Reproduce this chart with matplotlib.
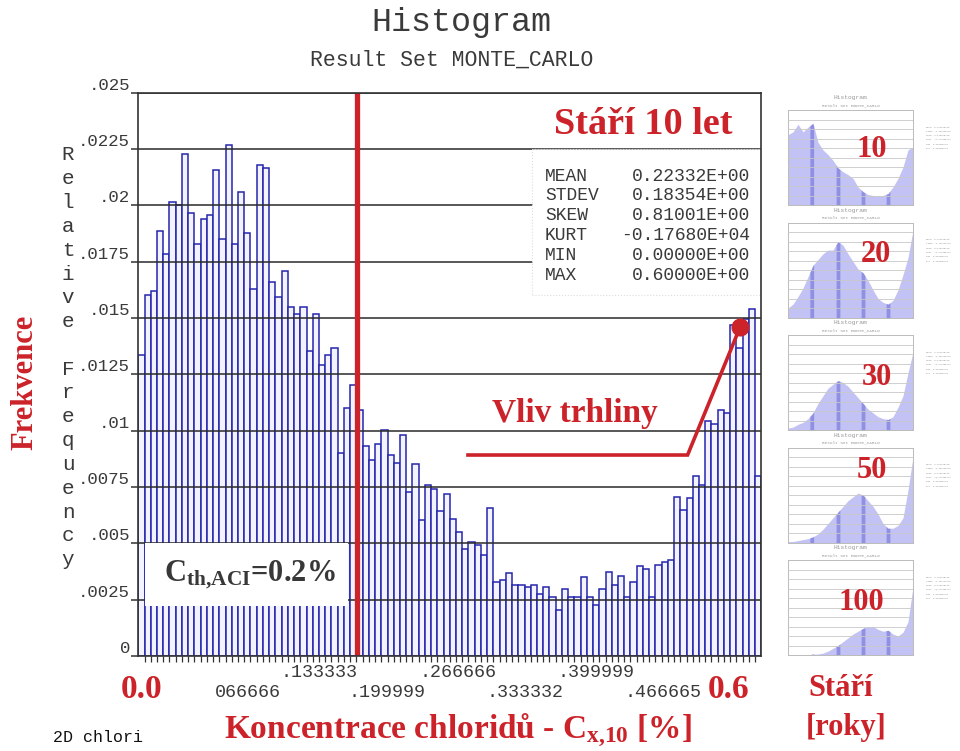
import numpy as np
import matplotlib.pyplot as plt
from matplotlib.patches import Rectangle

plt.rcParams['mathtext.fontset'] = 'custom'
plt.rcParams['mathtext.rm'] = 'Liberation Serif:bold'
plt.rcParams['mathtext.bf'] = 'Liberation Serif:bold'
plt.rcParams['mathtext.it'] = 'Liberation Serif:bold'

### data
bin_width = 0.006
freq = [0.01338, 0.01602, 0.01618, 0.01888, 0.01783, 0.02017, 0.02000, 0.02230,
        0.01967, 0.01830, 0.01938, 0.01958, 0.02158, 0.01852, 0.02268, 0.01830,
        0.02058, 0.01877, 0.01630, 0.02180, 0.02168, 0.01658, 0.01592, 0.01708,
        0.01550, 0.01518, 0.01550, 0.01355, 0.01518, 0.01292, 0.01338, 0.01367,
        0.00900, 0.01102, 0.01202, 0.01092, 0.00930, 0.00868, 0.00942, 0.01005,
        0.00892, 0.00855, 0.00980, 0.00730, 0.00850, 0.00602, 0.00758, 0.00742,
        0.00642, 0.00718, 0.00608, 0.00550, 0.00477, 0.00505, 0.00492, 0.00450,
        0.00655, 0.00328, 0.00338, 0.00367, 0.00313, 0.00313, 0.00305, 0.00313,
        0.00275, 0.00305, 0.00263, 0.00202, 0.00297, 0.00263, 0.00263, 0.00350,
        0.00263, 0.00227, 0.00297, 0.00375, 0.00313, 0.00355, 0.00263, 0.00327,
        0.00400, 0.00388, 0.00263, 0.00405, 0.00417, 0.00427, 0.00705, 0.00647,
        0.00702, 0.00800, 0.00758, 0.01042, 0.01030, 0.01092, 0.01080, 0.01468,
        0.01367, 0.01497, 0.01538, 0.00800]
y_ticks = [0, 0.0025, 0.005, 0.0075, 0.01, 0.0125, 0.015, 0.0175, 0.02, 0.0225, 0.025]
y_labels = ['0', '.0025', '.005', '.0075', '.01', '.0125', '.015', '.0175', '.02', '.0225', '.025']
x_ticks_up = [0.133333, 0.266666, 0.399999]
x_labels_up = ['.133333', '.266666', '.399999']
x_ticks_low = [0.066666, 0.199999, 0.333332, 0.466665]
x_labels_low = ['066666', '.199999', '.333332', '.466665']
stat_names = ['MEAN', 'STDEV', 'SKEW', 'KURT', 'MIN', 'MAX']
stat_values = ['0.22332E+00', '0.18354E+00', '0.81001E+00', '-0.17680E+04', '0.00000E+00', '0.60000E+00']
c_threshold = 0.211
crack_path_x = [0.3175, 0.529, 0.5796]
crack_path_y = [0.00892, 0.00892, 0.0146]

### small histograms for the other ages (relative heights)
ages = ['10', '20', '30', '50', '100']
age_label_x = [0.67, 0.70, 0.71, 0.67, 0.59]
age_label_y = [0.58, 0.66, 0.55, 0.76, 0.55]
thumb_x = np.linspace(0, 1, 26)
thumb_10 = [0.74, 0.77, 0.85, 0.77, 0.82, 0.86, 0.66, 0.58, 0.53, 0.47, 0.39, 0.35, 0.32,
            0.28, 0.19, 0.14, 0.11, 0.10, 0.10, 0.10, 0.12, 0.19, 0.28, 0.40, 0.58, 0.61]
thumb_20 = [0.10, 0.14, 0.22, 0.31, 0.43, 0.55, 0.61, 0.67, 0.71, 0.71, 0.80, 0.76, 0.67,
            0.59, 0.51, 0.47, 0.39, 0.29, 0.20, 0.16, 0.14, 0.18, 0.29, 0.45, 0.63, 0.92]
thumb_30 = [0.02, 0.03, 0.06, 0.08, 0.12, 0.18, 0.28, 0.36, 0.44, 0.48, 0.52, 0.50, 0.46,
            0.40, 0.34, 0.28, 0.22, 0.18, 0.14, 0.12, 0.11, 0.14, 0.24, 0.36, 0.60, 0.82]
thumb_50 = [0.01, 0.01, 0.02, 0.03, 0.04, 0.06, 0.09, 0.14, 0.20, 0.26, 0.32, 0.38, 0.44,
            0.48, 0.52, 0.50, 0.44, 0.38, 0.30, 0.20, 0.15, 0.15, 0.18, 0.26, 0.55, 0.90]
thumb_100 = [0.0, 0.0, 0.0, 0.0, 0.0, 0.01, 0.01, 0.02, 0.04, 0.07, 0.10, 0.14, 0.18,
             0.22, 0.25, 0.28, 0.30, 0.30, 0.27, 0.25, 0.26, 0.22, 0.20, 0.24, 0.35, 0.72]
thumbs = [thumb_10, thumb_20, thumb_30, thumb_50, thumb_100]
band_pos = [0.19, 0.4, 0.6, 0.8]

RED = '#cc2229'
MONO = 'Liberation Mono'
SERIF = 'Liberation Serif'
INK = '#3a3a3a'

fig = plt.figure(figsize=(9.6, 7.51), dpi=100)

###Main histogram
ax = fig.add_axes([138.3/960, 95/751, 623/960, 563.3/751])
edges = np.arange(len(freq)) * bin_width
ax.bar(edges, freq, width=bin_width, align='edge', facecolor='#f3f3ff',
       edgecolor='#2626ac', linewidth=1.1, zorder=2)
for yt in y_ticks[1:]:
    ax.axhline(yt, color='#2a2a2a', lw=1.1, zorder=3)
ax.set_xlim(0, 0.6)
ax.set_ylim(0, 0.025)
for s in ax.spines.values():
    s.set_color('#333333')
    s.set_linewidth(1.2)
    s.set_zorder(6)

ax.set_yticks(y_ticks)
ax.set_yticklabels(y_labels, family=MONO, fontsize=12.5, color=INK)
for lab in ax.get_yticklabels():
    lab.set_verticalalignment('bottom')
ax.tick_params(axis='y', direction='out', length=5, width=1.1, color='#333333', pad=1)
ax.set_xticks([])
ax.set_xticks(edges[1:], minor=True)
ax.tick_params(axis='x', which='minor', direction='out', length=4, width=0.9, color='#333333')

trans = ax.get_xaxis_transform()
for xt, lab in zip(x_ticks_up, x_labels_up):
    ax.text(xt + 0.004, -0.030, lab, transform=trans, family=MONO, fontsize=13.2,
            color=INK, ha='left', va='center')
for xt, lab in zip(x_ticks_low, x_labels_low):
    ax.text(xt + 0.007 if lab[0] != '.' else xt + 0.002, -0.064, lab, transform=trans,
            family=MONO, fontsize=13.2, color=INK, ha='left', va='center')

###Boxes covering the grid
ax.add_patch(Rectangle((0.379, 0.016), 0.221, 0.0065, facecolor='white',
                       edgecolor='#dddddd', lw=0.8, ls=':', zorder=4))
ax.add_patch(Rectangle((0.0065, 0.0022), 0.1955, 0.0028, facecolor='white',
                       edgecolor='none', zorder=4))
ax.text(0.1076, 0.0036, r'$\mathbf{C_{th{,}ACI}}$=0.2%', family=SERIF, weight='bold',
        fontsize=22, color='#383838', ha='center', va='center', zorder=7)

###Statistics
for i, (n, v) in enumerate(zip(stat_names, stat_values)):
    yy = 0.852 - i * 0.0352
    ax.text(0.653, yy, n, transform=ax.transAxes, family=MONO, fontsize=13,
            color=INK, ha='left', va='center', zorder=7)
    ax.text(0.982, yy, v, transform=ax.transAxes, family=MONO, fontsize=13,
            color=INK, ha='right', va='center', zorder=7)

ax.text(0.81, 0.943, 'Stáří 10 let', transform=ax.transAxes, family=SERIF,
        weight='bold', fontsize=27.5, color=RED, ha='center', va='center', zorder=7)

###Threshold and crack annotation
ax.axvline(c_threshold, color=RED, lw=3.8, zorder=5)
ax.plot(crack_path_x, crack_path_y, color=RED, lw=2.6, zorder=6, solid_joinstyle='miter')
ax.plot(crack_path_x[-1], crack_path_y[-1], 'o', color=RED, ms=12, zorder=7)
ax.text(0.701, 0.431, 'Vliv trhliny', transform=ax.transAxes, family=SERIF,
        weight='bold', fontsize=24, color=RED, ha='center', va='center', zorder=7)

###Figure texts
fig.text(461/960, 1 - 22/751, 'Histogram', family=MONO, fontsize=24, color=INK,
         ha='center', va='center')
fig.text(452/960, 1 - 60/751, 'Result Set MONTE_CARLO', family=MONO, fontsize=15.5,
         color=INK, ha='center', va='center')
for i, ch in enumerate('Relative Frequency'):
    fig.text(68/960, 1 - (155 + i * 23.8)/751, ch, family=MONO, fontsize=15,
             color=INK, ha='center', va='center')
fig.text(25/960, 1 - 382/751, 'Frekvence', family=SERIF, weight='bold', fontsize=22,
         color=RED, rotation=90, ha='center', va='center')
fig.text(142/960, 1 - 690/751, '0.0', family=SERIF, weight='bold', fontsize=24,
         color=RED, ha='center', va='center')
fig.text(729/960, 1 - 690/751, '0.6', family=SERIF, weight='bold', fontsize=24,
         color=RED, ha='center', va='center',
         bbox=dict(facecolor='white', edgecolor='none', pad=1))
fig.text(458/960, 1 - 730/751, r'Koncentrace chloridů - $\mathbf{C_{x{,}10}}$ [%]',
         family=SERIF, weight='bold', fontsize=24, color=RED, ha='center', va='center')
fig.text(841/960, 1 - 688/751, 'Stáří', family=SERIF, weight='bold', fontsize=22,
         color=RED, ha='center', va='center')
fig.text(846/960, 1 - 728/751, '[roky]', family=SERIF, weight='bold', fontsize=22,
         color=RED, ha='center', va='center')
fig.text(53/960, 1 - 737/751, '2D chlori', family=MONO, fontsize=12, color='#111111',
         ha='left', va='center')

###Thumbnails of the other ages
for k, (age, vals) in enumerate(zip(ages, thumbs)):
    top = 110 + 112.5 * k
    tax = fig.add_axes([788/960, 1 - (top + 95)/751, 125/960, 95/751])
    tax.fill_between(thumb_x, vals, color='#c2c2f4', lw=0, zorder=2)
    for bp in band_pos:
        bx = np.linspace(bp - 0.015, bp + 0.015, 5)
        tax.fill_between(bx, np.interp(bx, thumb_x, vals), color='#9090e2', lw=0, zorder=2)
    for gy in np.linspace(0.1, 0.9, 9):
        tax.axhline(gy, color='#c8c8c8', lw=0.6, zorder=3)
    tax.set_xlim(0, 1)
    tax.set_ylim(0, 1)
    tax.set_xticks([])
    tax.set_yticks([])
    for s in tax.spines.values():
        s.set_color('#bbbbbb')
        s.set_linewidth(0.7)
    tax.text(0.5, 1.13, 'Histogram', transform=tax.transAxes, family=MONO, fontsize=4.5,
             color='#999999', ha='center', va='center')
    tax.text(0.5, 1.05, 'Result Set MONTE_CARLO', transform=tax.transAxes, family=MONO,
             fontsize=3.2, color='#999999', ha='center', va='center')
    for i, n in enumerate(stat_names):
        tax.text(1.1, 0.82 - i * 0.045, n + '  ' + stat_values[i], transform=tax.transAxes,
                 family=MONO, fontsize=1.6, color='#888888', ha='left', va='center')
    tax.text(age_label_x[k], age_label_y[k], age, transform=tax.transAxes, family=SERIF,
             weight='bold', fontsize=22, color=RED, ha='center', va='center', zorder=5)

fig.savefig('out.png', dpi=100, facecolor='white')
